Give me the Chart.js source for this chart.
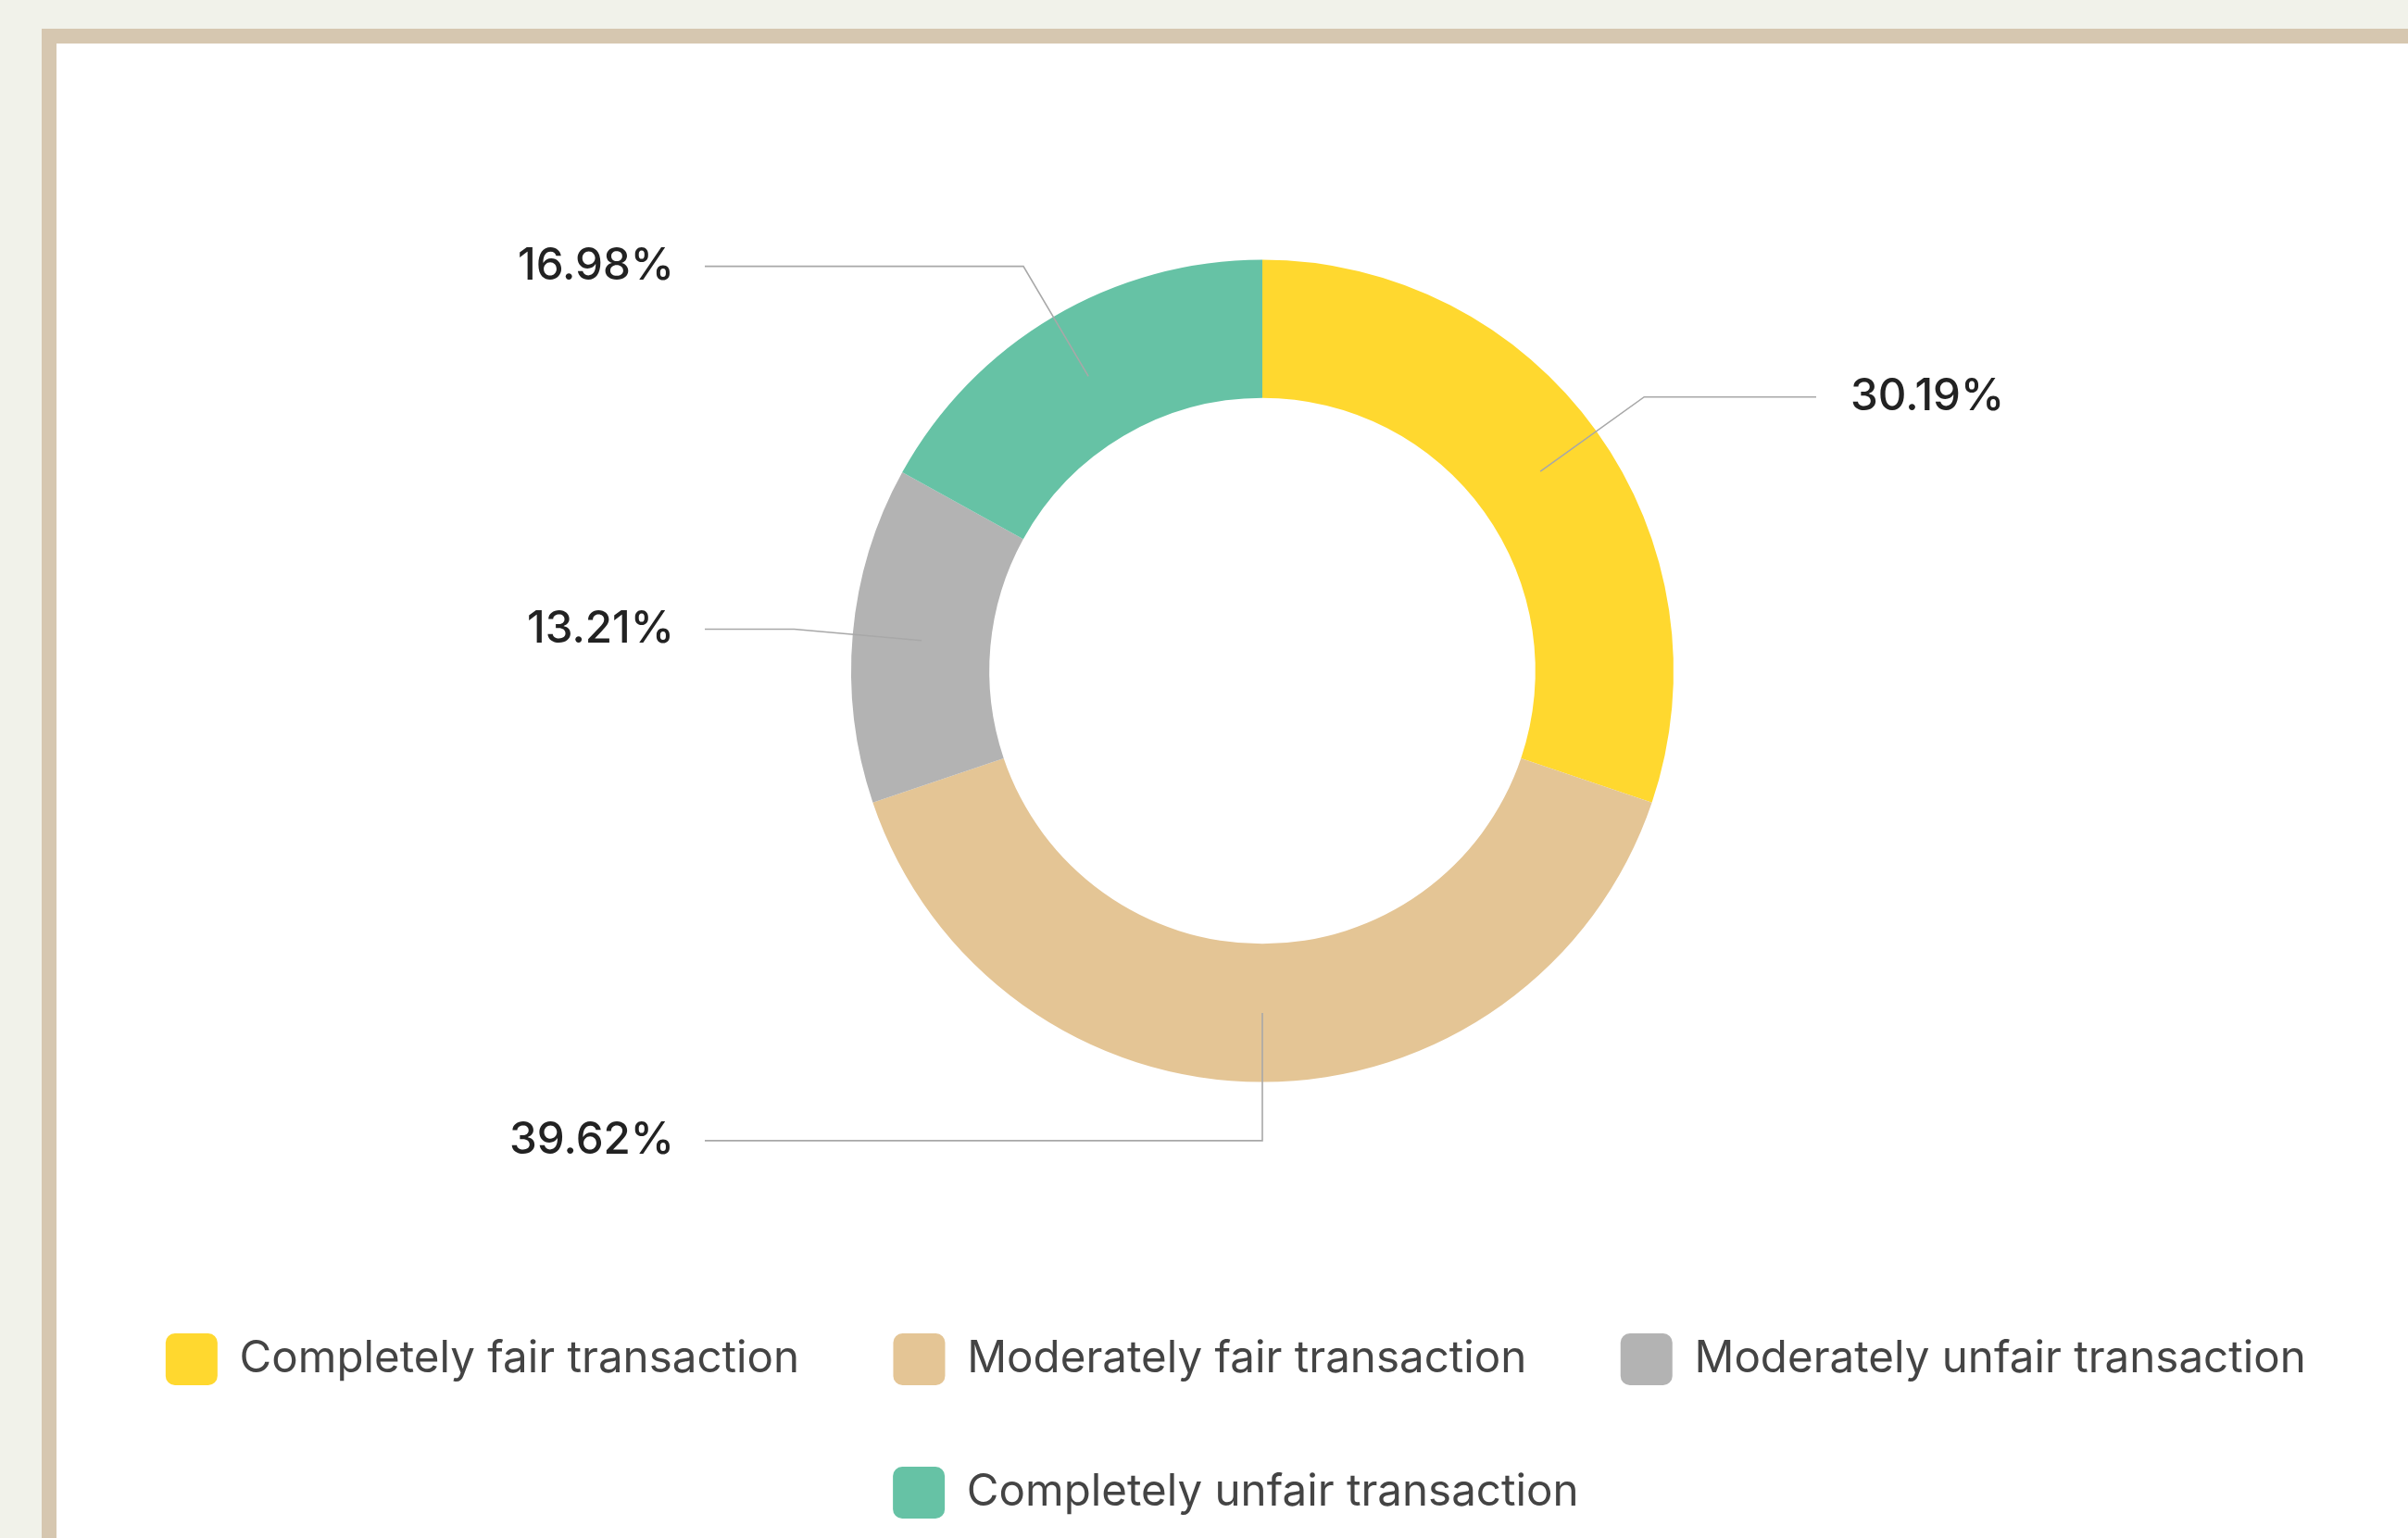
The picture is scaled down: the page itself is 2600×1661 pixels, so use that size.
<!DOCTYPE html>
<html lang="en">
<head>
    <meta charset="UTF-8">
    <title>Transaction fairness</title>
    <script src="https://cdn.jsdelivr.net/npm/chart.js"></script>
    <style>
        html, body { margin: 0; padding: 0; background: #f1f2ea; overflow: hidden; }
        body { width: 2600px; height: 1661px; position: relative; }
        .card {
            position: absolute; left: 45px; top: 31px; width: 2700px; height: 1700px;
            background: #fff; border-top: 16px solid #d6c7b0; border-left: 16px solid #d6c7b0;
        }
        .wrap { position: absolute; left: 0; top: 0; width: 2604px; height: 1603px; }
    </style>
</head>
<body>
    <div class="card">
        <div class="wrap"><canvas id="chartCanvas"></canvas></div>
    </div>

    <script>
        const categories = ['Completely fair transaction', 'Moderately fair transaction', 'Moderately unfair transaction', 'Completely unfair transaction'];
        const shares = [30.19, 39.62, 13.21, 16.98];
        const colors = ['#ffd82f', '#e4c595', '#b3b3b3', '#66c2a5'];

        // leader lines: radial piece from the ring centre, then horizontal out to a fixed column
        const calloutPlugin = {
            id: 'callouts',
            afterLayout(chart) {
                // legend in the original sits a little left of the ring
                chart.legend.left -= 22;
                chart.legend.right -= 22;
            },
            afterDatasetsDraw(chart) {
                const ctx = chart.ctx;
                const meta = chart.getDatasetMeta(0);
                ctx.save();
                ctx.font = '500 47.5px Inter';
                ctx.textBaseline = 'middle';
                meta.data.forEach((arc, i) => {
                    const p = arc.getProps(['x', 'y', 'startAngle', 'endAngle', 'innerRadius', 'outerRadius'], true);
                    const a = (p.startAngle + p.endAngle) / 2;
                    const r = (p.innerRadius + p.outerRadius) / 2;
                    const x0 = p.x + Math.cos(a) * r, y0 = p.y + Math.sin(a) * r;
                    const x1 = p.x + Math.cos(a) * (r + 138), y1 = p.y + Math.sin(a) * (r + 138);
                    const right = Math.cos(a) > 1e-6;
                    const x2 = right ? p.x + 598 : p.x - 602;
                    ctx.strokeStyle = '#a8a8a8';
                    ctx.lineWidth = 1.6;
                    ctx.beginPath();
                    ctx.moveTo(x0, y0);
                    ctx.lineTo(x1, y1);
                    ctx.lineTo(x2, y1);
                    ctx.stroke();
                    ctx.fillStyle = '#222';
                    ctx.textAlign = right ? 'left' : 'right';
                    ctx.fillText(shares[i].toFixed(2) + '%', right ? x2 + 37 : x2 - 33, y1);
                });
                ctx.restore();
            }
        };

        const ctx = document.getElementById('chartCanvas').getContext('2d');
        const chart = new Chart(ctx, {
            type: 'doughnut',
            data: {
                labels: categories,
                datasets: [{ data: shares, backgroundColor: colors, borderWidth: 0, radius: 444 }]
            },
            options: {
                responsive: true,
                maintainAspectRatio: false,
                animation: false,
                cutout: '66.4%',
                layout: { padding: { top: 50, left: 0, right: 0, bottom: 0 } },
                plugins: {
                    tooltip: { enabled: false },
                    legend: {
                        position: 'bottom',
                        labels: {
                            boxWidth: 56, boxHeight: 56, useBorderRadius: true, borderRadius: 10,
                            padding: 88, color: '#444',
                            font: { family: 'Inter', size: 47.5 },
                            generateLabels: (c) => Chart.overrides.doughnut.plugins.legend.labels.generateLabels(c)
                                .map(item => ({ ...item, text: item.text + ' ' }))
                        }
                    }
                }
            },
            plugins: [calloutPlugin]
        });
    </script>
</body>
</html>
